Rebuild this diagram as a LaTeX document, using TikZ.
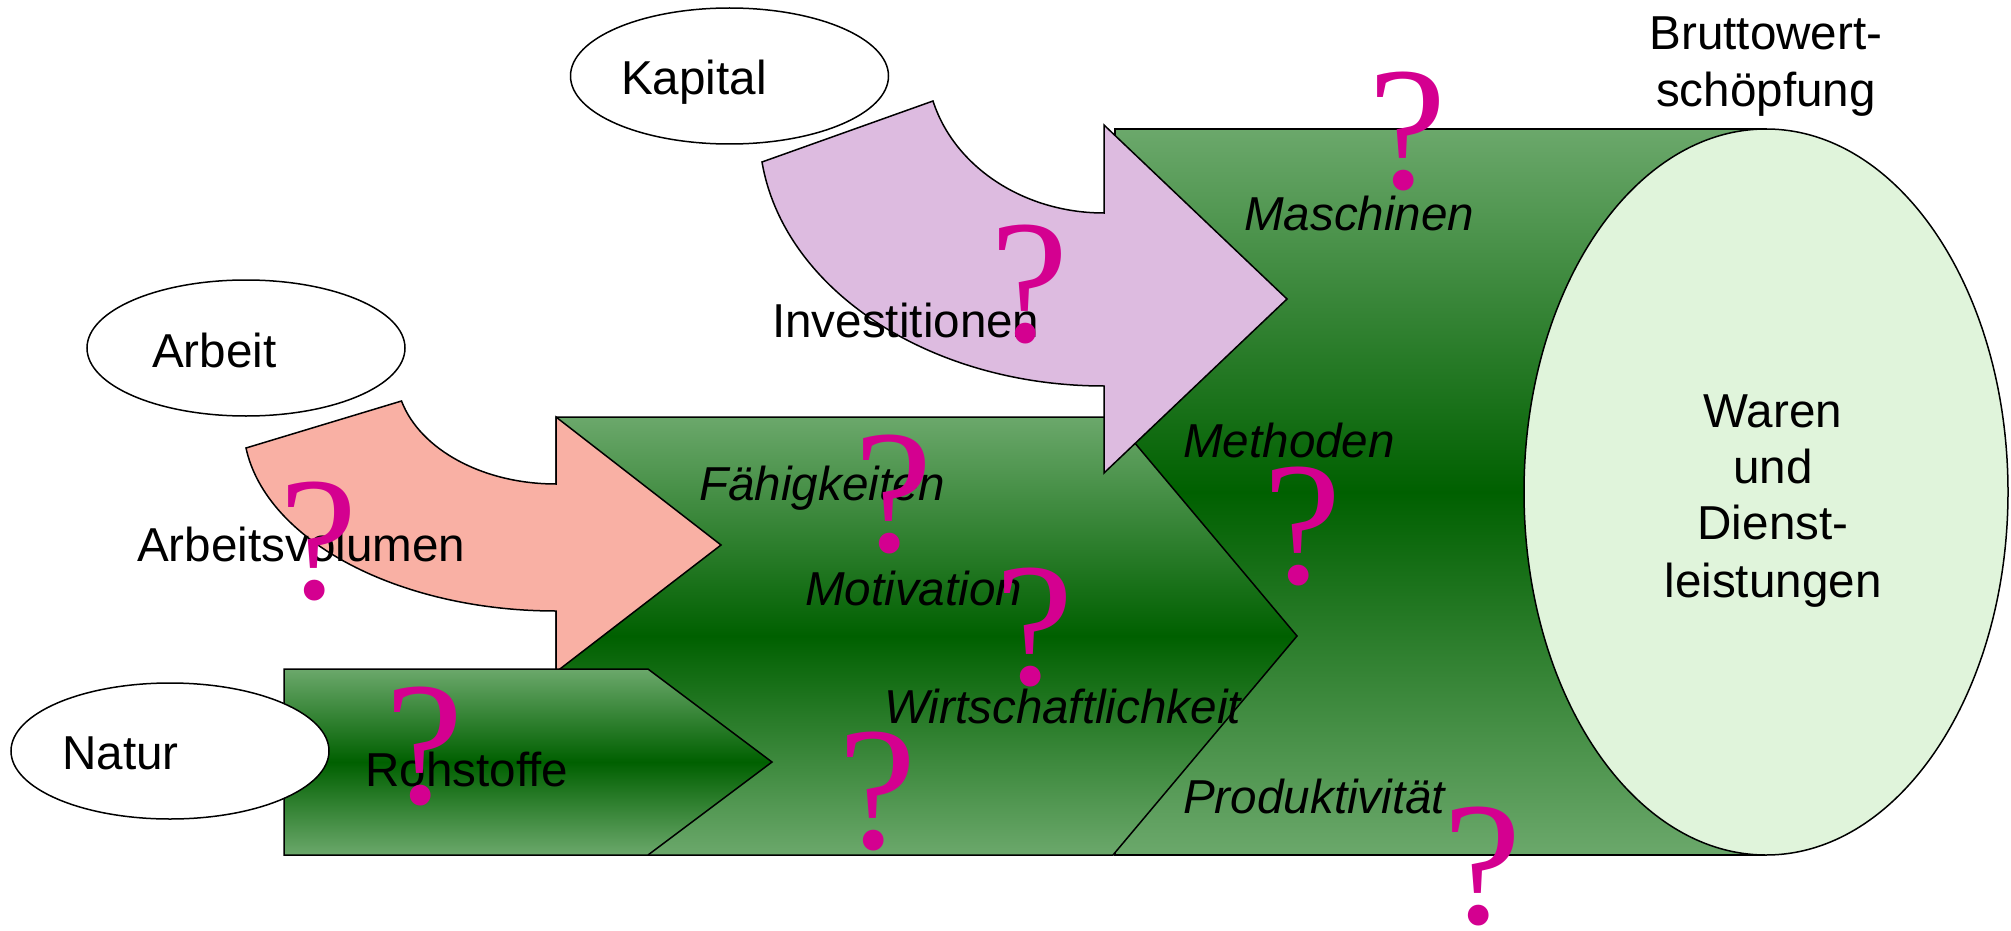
\documentclass[tikz,border=0pt]{standalone}
\usepackage{fontspec}
\setmainfont{Liberation Sans}
\newfontfamily\qfont{Liberation Serif}
\usetikzlibrary{shapes.geometric}
\definecolor{gl}{RGB}{107,168,107}
\definecolor{gd}{RGB}{0,96,0}
\definecolor{face}{RGB}{224,244,219}
\definecolor{lila}{RGB}{221,187,224}
\definecolor{lachs}{RGB}{249,176,164}
\definecolor{qm}{RGB}{212,0,144}
\begin{document}
\begin{tikzpicture}[x=1pt,y=-1pt,line join=miter,
  outl/.style={draw=black,line width=1.5pt},
  greenshade/.style={outl,top color=gl,bottom color=gl,middle color=gd},
  oval/.style={ellipse,draw=black,line width=1.5pt,fill=white,minimum width=318pt,minimum height=136pt,inner sep=0pt},
  lbl/.style={inner sep=0pt,anchor=base west,font=\fontsize{47.6}{57}\selectfont},
  ilbl/.style={inner sep=0pt,anchor=base west,font=\fontsize{47.6}{57}\selectfont\itshape},
  clbl/.style={inner sep=0pt,anchor=base,font=\fontsize{47.6}{57}\selectfont},
  qmark/.style={inner sep=0pt,anchor=base,text=qm,font=\qfont\fontsize{176}{176}\selectfont}]
\fill[white] (0,0) rectangle (2011,931);
\useasboundingbox (0,0) rectangle (2011,931);
% cylinder
\path[greenshade] (1115,129) -- (1766,129) -- (1766,855) -- (1115,855) -- cycle;
\draw[outl,fill=face] (1766,492) ellipse [x radius=242pt,y radius=363pt];
% middle chevron
\path[greenshade] (556,417) -- (1113,417) -- (1297,636) -- (1113,855) -- (556,855) -- cycle;
% purple curved arrow
\path[outl,fill=lila] (762,162) -- (933,101) .. controls (954.3,167.1) and (1024.1,213) .. (1104,213) -- (1104,125) -- (1287,299) -- (1104,473) -- (1104,386) .. controls (930.2,386) and (783.8,290) .. (762,162) -- cycle;
% salmon curved arrow
\path[outl,fill=lachs] (246,448) -- (401.5,401) .. controls (420.2,450) and (483.6,484) .. (556,484) -- (556,417) -- (721,545) -- (556,672) -- (556,611) .. controls (399.7,611) and (266.2,541.2) .. (246,448) -- cycle;
% Rohstoffe chevron
\path[greenshade] (284,669) -- (648,669) -- (772,762) -- (648,855) -- (284,855) -- cycle;
% ovals
\node[oval] (kapE) at (729.5,76) {};
\node[oval] (arbE) at (246,348) {};
\node[oval] (natE) at (170,751) {};
% labels
\node[lbl] (tKapital) at (621,95) {Kapital};
\node[lbl] (tArbeit) at (152,367) {Arbeit};
\node[lbl] (tNatur) at (62,769) {Natur};
\node[lbl] (tInv) at (772,337) {Investitionen};
\node[lbl] (tAV) at (137,561) {Arbeitsvolumen};
\node[lbl] (tRoh) at (365,786) {Rohstoffe};
\node[ilbl] (tFae) at (699,500) {Fähigkeiten};
\node[ilbl] (tMot) at (805,605) {Motivation};
\node[ilbl] (tWirt) at (884,723) {Wirtschaftlichkeit};
\node[ilbl] (tMasch) at (1244,230) {Maschinen};
\node[ilbl] (tMeth) at (1183,457) {Methoden};
\node[ilbl] (tProd) at (1183,813) {Produktivität};
\node[clbl] (tBW1) at (1766,50) {Bruttowert-};
\node[clbl] (tBW2) at (1766,107) {schöpfung};
\node[clbl] (tW1) at (1773,427) {Waren};
\node[clbl] (tW2) at (1773,483) {und};
\node[clbl] (tW3) at (1773,539) {Dienst-};
\node[clbl] (tW4) at (1773,597) {leistungen};
% question marks
\node[qmark] (q1) at (1408,189) {?};
\node[qmark] (q2) at (1030,341) {?};
\node[qmark] (q3) at (894,551) {?};
\node[qmark] (q4) at (319,598) {?};
\node[qmark] (q5) at (1035,684) {?};
\node[qmark] (q6) at (1303,583) {?};
\node[qmark] (q7) at (425,803) {?};
\node[qmark] (q8) at (878,848) {?};
\node[qmark] (q9) at (1483,923) {?};
\end{tikzpicture}
\end{document}
